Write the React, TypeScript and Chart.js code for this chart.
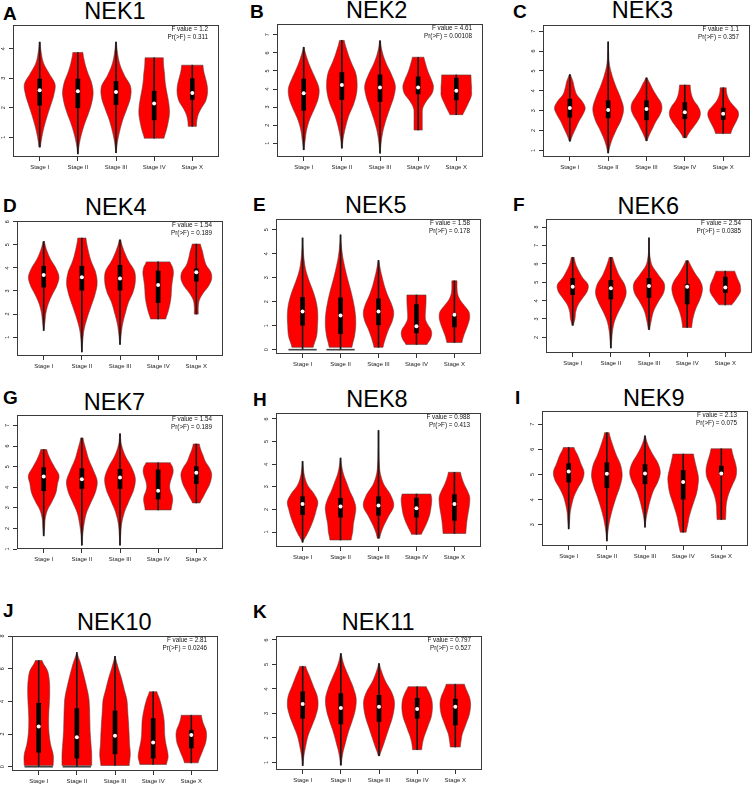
import React, { useEffect, useRef } from "react";
import { Chart, registerables } from "chart.js";

Chart.register(...registerables);

const FONT = '"Liberation Sans", Arial, Helvetica, sans-serif';
const STAGES = ["Stage I", "Stage II", "Stage III", "Stage IV", "Stage X"];
const STAGE_POS = [1, 2, 3, 4, 5];
const HALF_WIDTH = 0.4; // max half-width of a violin, in x units

// stats per stage: [min, q1, median, q3, max]
// shape per stage: relative width at 11 evenly spaced levels from min to max
const NEK1_STATS = [
  [0.67, 2.09, 2.59, 2.97, 4.22],
  [0.44, 2.0, 2.56, 2.97, 3.87],
  [0.48, 2.11, 2.53, 2.89, 4.22],
  [0.97, 1.59, 2.14, 2.56, 3.69],
  [1.37, 2.28, 2.5, 2.98, 3.44],
];
const NEK1_SHAPE = [
  [0.05, 0.15, 0.3, 0.5, 0.72, 0.93, 1.0, 0.62, 0.25, 0.1, 0.03],
  [0.02, 0.1, 0.25, 0.45, 0.7, 0.9, 1.0, 0.9, 0.65, 0.45, 0.33],
  [0.02, 0.1, 0.25, 0.45, 0.72, 0.95, 0.95, 0.55, 0.25, 0.1, 0.03],
  [0.65, 0.8, 0.92, 1.0, 0.98, 0.9, 0.8, 0.72, 0.68, 0.62, 0.6],
  [0.27, 0.3, 0.4, 0.6, 0.85, 0.97, 1.0, 0.95, 0.85, 0.75, 0.7],
];

const NEK2_STATS = [
  [0.64, 2.82, 3.76, 4.55, 6.31],
  [0.73, 3.42, 4.22, 4.91, 6.69],
  [0.45, 3.31, 4.09, 4.78, 6.67],
  [1.73, 3.73, 4.09, 4.67, 5.76],
  [2.58, 3.4, 3.9, 4.6, 4.78],
];
const NEK2_SHAPE = [
  [0.03, 0.1, 0.2, 0.4, 0.7, 0.95, 1.0, 0.75, 0.45, 0.2, 0.03],
  [0.03, 0.1, 0.25, 0.45, 0.75, 0.95, 1.0, 0.9, 0.6, 0.35, 0.16],
  [0.02, 0.08, 0.2, 0.4, 0.65, 0.9, 1.0, 0.75, 0.4, 0.15, 0.03],
  [0.27, 0.27, 0.27, 0.3, 0.55, 0.9, 1.0, 0.85, 0.65, 0.5, 0.38],
  [0.43, 0.55, 0.68, 0.8, 0.92, 1.0, 1.0, 1.0, 0.98, 0.97, 0.96],
];

const NEK3_STATS = [
  [1.47, 2.67, 3.13, 3.58, 4.81],
  [0.87, 2.64, 3.04, 3.5, 6.46],
  [1.49, 2.54, 3.09, 3.5, 4.65],
  [1.64, 2.59, 2.92, 3.41, 4.29],
  [1.85, 2.56, 2.84, 3.13, 4.15],
];
const NEK3_SHAPE = [
  [0.05, 0.2, 0.4, 0.6, 0.85, 1.0, 0.8, 0.45, 0.3, 0.2, 0.05],
  [0.03, 0.2, 0.5, 0.85, 1.0, 0.8, 0.5, 0.25, 0.08, 0.03, 0.01],
  [0.05, 0.2, 0.4, 0.6, 0.85, 1.0, 0.95, 0.7, 0.45, 0.25, 0.05],
  [0.12, 0.3, 0.55, 0.8, 0.98, 1.0, 0.85, 0.6, 0.45, 0.38, 0.35],
  [0.5, 0.6, 0.75, 0.9, 1.0, 0.95, 0.7, 0.45, 0.3, 0.22, 0.2],
];

const NEK4_STATS = [
  [1.29, 3.17, 3.69, 4.07, 5.14],
  [0.36, 3.04, 3.6, 4.07, 5.29],
  [0.69, 3.04, 3.54, 4.11, 5.21],
  [1.79, 2.5, 3.26, 3.86, 4.26],
  [2.0, 3.43, 3.81, 3.96, 5.03],
];
const NEK4_SHAPE = [
  [0.02, 0.08, 0.15, 0.3, 0.55, 0.85, 1.0, 0.8, 0.45, 0.2, 0.05],
  [0.02, 0.06, 0.15, 0.35, 0.6, 0.85, 1.0, 0.9, 0.6, 0.4, 0.27],
  [0.02, 0.08, 0.18, 0.35, 0.55, 0.85, 1.0, 0.95, 0.55, 0.25, 0.05],
  [0.5, 0.62, 0.72, 0.8, 0.85, 0.87, 0.9, 0.95, 1.0, 0.95, 0.78],
  [0.13, 0.13, 0.2, 0.45, 0.8, 1.0, 0.95, 0.65, 0.5, 0.4, 0.27],
];

const NEK5_STATS = [
  [0.1, 1.02, 1.59, 2.18, 4.66],
  [0.1, 0.67, 1.43, 2.16, 4.79],
  [0.1, 1.04, 1.59, 2.12, 3.72],
  [0.22, 0.7, 0.98, 1.88, 2.28],
  [0.3, 0.95, 1.46, 1.5, 2.87],
];
const NEK5_SHAPE = [
  [0.7, 0.92, 0.98, 1.0, 0.92, 0.72, 0.45, 0.22, 0.1, 0.04, 0.01],
  [0.75, 0.92, 1.0, 0.97, 0.85, 0.68, 0.48, 0.3, 0.15, 0.06, 0.01],
  [0.3, 0.45, 0.65, 0.9, 1.0, 0.85, 0.6, 0.4, 0.25, 0.12, 0.03],
  [0.7, 0.9, 1.0, 0.95, 0.75, 0.6, 0.58, 0.6, 0.62, 0.63, 0.63],
  [0.5, 0.6, 0.75, 0.9, 1.0, 0.95, 0.65, 0.35, 0.2, 0.17, 0.17],
];
const NEK5_ZERO_SPIKE = [1, 1, 0, 0, 0];

const NEK6_STATS = [
  [2.66, 4.32, 4.76, 5.21, 6.35],
  [1.42, 4.09, 4.67, 5.1, 6.35],
  [2.43, 4.17, 4.8, 5.21, 7.41],
  [2.54, 3.82, 4.76, 4.89, 6.17],
  [3.77, 4.44, 4.71, 5.28, 5.6],
];
const NEK6_SHAPE = [
  [0.05, 0.15, 0.2, 0.35, 0.65, 0.95, 1.0, 0.65, 0.4, 0.2, 0.1],
  [0.02, 0.06, 0.12, 0.25, 0.5, 0.8, 1.0, 0.9, 0.55, 0.3, 0.12],
  [0.05, 0.15, 0.3, 0.6, 0.95, 1.0, 0.6, 0.2, 0.06, 0.02, 0.01],
  [0.3, 0.35, 0.45, 0.6, 0.8, 0.95, 1.0, 0.85, 0.55, 0.3, 0.1],
  [0.43, 0.6, 0.75, 0.9, 1.0, 1.0, 0.97, 0.88, 0.78, 0.7, 0.62],
];

const NEK7_STATS = [
  [1.64, 3.83, 4.52, 4.95, 5.83],
  [1.19, 3.94, 4.39, 4.9, 6.39],
  [1.19, 3.94, 4.47, 4.87, 6.6],
  [2.9, 3.43, 3.83, 4.84, 5.19],
  [3.24, 4.18, 4.71, 5.0, 6.1],
];
const NEK7_SHAPE = [
  [0.02, 0.06, 0.1, 0.25, 0.55, 0.8, 0.9, 1.0, 0.7, 0.4, 0.2],
  [0.02, 0.06, 0.15, 0.3, 0.6, 0.9, 1.0, 0.75, 0.45, 0.25, 0.08],
  [0.02, 0.05, 0.12, 0.3, 0.6, 0.9, 1.0, 0.75, 0.35, 0.1, 0.02],
  [0.85, 0.9, 0.95, 0.92, 0.8, 0.75, 0.8, 0.9, 0.98, 0.95, 0.8],
  [0.25, 0.45, 0.65, 0.85, 0.97, 1.0, 0.85, 0.6, 0.45, 0.3, 0.2],
];

const NEK8_STATS = [
  [0.55, 1.77, 2.24, 2.56, 4.12],
  [0.65, 1.66, 2.13, 2.49, 4.27],
  [0.73, 1.74, 2.17, 2.56, 5.49],
  [0.9, 1.66, 2.05, 2.5, 2.68],
  [0.94, 1.52, 2.24, 2.65, 3.64],
];
const NEK8_SHAPE = [
  [0.02, 0.3, 0.55, 0.75, 0.9, 1.0, 0.75, 0.35, 0.15, 0.06, 0.02],
  [0.7, 0.8, 0.85, 0.95, 1.0, 0.85, 0.6, 0.4, 0.2, 0.08, 0.02],
  [0.08, 0.3, 0.65, 1.0, 0.8, 0.35, 0.12, 0.05, 0.03, 0.01, 0.005],
  [0.33, 0.45, 0.58, 0.7, 0.8, 0.88, 0.93, 0.97, 1.0, 1.0, 0.95],
  [0.75, 0.78, 0.82, 0.88, 0.95, 1.0, 1.0, 0.85, 0.65, 0.5, 0.4],
];

const NEK9_STATS = [
  [2.84, 4.7, 5.12, 5.43, 6.07],
  [2.36, 4.48, 5.03, 5.46, 6.66],
  [2.91, 4.63, 5.04, 5.39, 6.53],
  [2.71, 4.02, 4.7, 5.16, 5.81],
  [3.21, 5.0, 5.04, 5.33, 6.02],
];
const NEK9_SHAPE = [
  [0.02, 0.06, 0.1, 0.2, 0.35, 0.6, 0.9, 1.0, 0.8, 0.6, 0.35],
  [0.02, 0.08, 0.2, 0.38, 0.6, 0.85, 1.0, 0.9, 0.6, 0.35, 0.15],
  [0.02, 0.08, 0.2, 0.35, 0.55, 0.85, 1.0, 0.85, 0.5, 0.2, 0.03],
  [0.2, 0.3, 0.4, 0.55, 0.72, 0.88, 0.97, 1.0, 0.9, 0.78, 0.68],
  [0.28, 0.3, 0.32, 0.4, 0.55, 0.75, 0.95, 1.0, 0.92, 0.78, 0.68],
];

const NEK10_STATS = [
  [0.08, 0.89, 2.46, 3.88, 6.5],
  [0.08, 0.53, 1.8, 3.56, 6.99],
  [0.08, 0.79, 1.9, 3.41, 6.75],
  [0.14, 0.53, 1.49, 2.95, 4.59],
  [0.24, 1.15, 1.94, 2.24, 3.15],
];
const NEK10_SHAPE = [
  [0.95, 0.95, 0.78, 0.68, 0.65, 0.66, 0.7, 0.72, 0.7, 0.58, 0.22],
  [0.97, 0.97, 0.92, 0.87, 0.85, 0.83, 0.78, 0.63, 0.45, 0.25, 0.02],
  [0.93, 1.0, 0.95, 0.92, 0.88, 0.83, 0.78, 0.6, 0.42, 0.2, 0.02],
  [0.87, 0.98, 0.92, 0.82, 0.76, 0.74, 0.72, 0.65, 0.55, 0.42, 0.25],
  [0.45, 0.55, 0.68, 0.8, 0.92, 0.98, 1.0, 0.95, 0.82, 0.72, 0.66],
];
const NEK10_ZERO_SPIKE = [1, 1, 0, 0, 0];

const NEK11_STATS = [
  [0.87, 2.8, 3.38, 3.88, 4.92],
  [0.89, 2.57, 3.22, 3.81, 5.44],
  [1.27, 2.67, 3.27, 3.74, 5.03],
  [1.52, 2.8, 3.18, 3.62, 4.09],
  [1.63, 2.53, 3.27, 3.58, 4.19],
];
const NEK11_SHAPE = [
  [0.02, 0.08, 0.2, 0.35, 0.6, 0.85, 1.0, 0.95, 0.7, 0.45, 0.2],
  [0.03, 0.12, 0.3, 0.5, 0.75, 0.95, 1.0, 0.8, 0.5, 0.2, 0.03],
  [0.05, 0.25, 0.45, 0.65, 0.85, 0.98, 1.0, 0.8, 0.45, 0.2, 0.03],
  [0.3, 0.35, 0.45, 0.6, 0.75, 0.9, 0.98, 1.0, 0.95, 0.8, 0.6],
  [0.33, 0.38, 0.45, 0.6, 0.75, 0.9, 0.98, 1.0, 0.92, 0.75, 0.6],
];

const NO_SPIKE = [0, 0, 0, 0, 0];

const GENES = ["NEK1", "NEK2", "NEK3", "NEK4", "NEK5", "NEK6", "NEK7", "NEK8", "NEK9", "NEK10", "NEK11"];
const LETTERS = ["A", "B", "C", "D", "E", "F", "G", "H", "I", "J", "K"];
const F_VALUES = ["1.2", "4.61", "1.1", "1.54", "1.58", "2.54", "1.54", "0.988", "2.13", "2.81", "0.797"];
const P_VALUES = ["0.311", "0.00108", "0.357", "0.189", "0.178", "0.0385", "0.189", "0.413", "0.075", "0.0246", "0.527"];
const Y_RANGES = [
  [0.333, 4.8], [0.236, 7.6], [0.67, 7.31],
  [0.186, 6.03], [-0.18, 5.45], [1.15, 8.44],
  [1.0, 7.51], [0.34, 6.26], [2.16, 7.52],
  [-0.26, 8.0], [0.69, 6.16],
];
const Y_TICKS = [
  [1, 2, 3, 4], [1, 2, 3, 4, 5, 6, 7], [1, 2, 3, 4, 5, 6, 7],
  [1, 2, 3, 4, 5, 6], [0, 1, 2, 3, 4, 5], [2, 3, 4, 5, 6, 7, 8],
  [1, 2, 3, 4, 5, 6, 7], [1, 2, 3, 4, 5, 6], [3, 4, 5, 6, 7],
  [0, 2, 4, 6, 8], [1, 2, 3, 4, 5, 6],
];
const ALL_STATS = [NEK1_STATS, NEK2_STATS, NEK3_STATS, NEK4_STATS, NEK5_STATS, NEK6_STATS, NEK7_STATS, NEK8_STATS, NEK9_STATS, NEK10_STATS, NEK11_STATS];
const ALL_SHAPES = [NEK1_SHAPE, NEK2_SHAPE, NEK3_SHAPE, NEK4_SHAPE, NEK5_SHAPE, NEK6_SHAPE, NEK7_SHAPE, NEK8_SHAPE, NEK9_SHAPE, NEK10_SHAPE, NEK11_SHAPE];
const ALL_SPIKES = [NO_SPIKE, NO_SPIKE, NO_SPIKE, NO_SPIKE, NEK5_ZERO_SPIKE, NO_SPIKE, NO_SPIKE, NO_SPIKE, NO_SPIKE, NEK10_ZERO_SPIKE, NO_SPIKE];

// layout: plot box [left, top, width, height], letter [x, baseline], title [centerX, baseline]
const BOXES = [
  [13, 23, 206, 134], [277, 22, 206, 135], [543, 23, 207, 134],
  [17, 219, 206, 137], [276, 217, 205, 137], [546, 217, 206, 136],
  [17, 413, 206, 136], [276, 411, 205, 136], [542, 409, 206, 137],
  [12, 634, 206, 137], [276, 634, 206, 136],
];
const LETTER_POS = [
  [3, 20], [250, 18.5], [513, 18.5], [3, 212], [253, 211], [513, 211],
  [3, 404], [253, 406], [515, 404], [3, 617.5], [253, 618],
];
const TITLE_POS = [
  [115, 19.5], [376.7, 19], [642.5, 19.3], [115.8, 216], [375.8, 214], [648.3, 215],
  [114.5, 411], [377, 408.3], [653.8, 406.7], [114.3, 631], [378.2, 631],
];

const PAD_L = 14;
const PAD_T = 2;
const PAD_R = 4;
const PAD_B = 22;

function drawViolin(ctx: CanvasRenderingContext2D, xs: any, ys: any, pos: number, stats: number[], shape: number[]) {
  const mn = stats[0];
  const mx = stats[4];
  const n = shape.length;
  const cx = xs.getPixelForValue(pos);
  const pts = shape.map((w, i) => {
    const v = mn + ((mx - mn) * i) / (n - 1);
    return { y: ys.getPixelForValue(v), h: Math.abs(xs.getPixelForValue(pos + HALF_WIDTH * w) - cx) };
  });
  const dense: { y: number; h: number }[] = [];
  const steps = 10;
  for (let i = 0; i < n - 1; i++) {
    const p0 = pts[Math.max(0, i - 1)];
    const p1 = pts[i];
    const p2 = pts[i + 1];
    const p3 = pts[Math.min(n - 1, i + 2)];
    for (let s = 0; s < steps; s++) {
      const t = s / steps;
      const t2 = t * t;
      const t3 = t2 * t;
      const h =
        0.5 *
        (2 * p1.h + (-p0.h + p2.h) * t + (2 * p0.h - 5 * p1.h + 4 * p2.h - p3.h) * t2 + (-p0.h + 3 * p1.h - 3 * p2.h + p3.h) * t3);
      const y = p1.y + (p2.y - p1.y) * t;
      dense.push({ y, h: Math.max(0.3, h) });
    }
  }
  dense.push(pts[n - 1]);
  ctx.beginPath();
  dense.forEach((p, i) => (i === 0 ? ctx.moveTo(cx + p.h, p.y) : ctx.lineTo(cx + p.h, p.y)));
  for (let i = dense.length - 1; i >= 0; i--) ctx.lineTo(cx - dense[i].h, dense[i].y);
  ctx.closePath();
  ctx.fillStyle = "#ff0000";
  ctx.fill();
  ctx.strokeStyle = "#5a3a3a";
  ctx.lineWidth = 0.6;
  ctx.stroke();
}

function Panel({ idx }: { idx: number }) {
  const ref = useRef<HTMLCanvasElement | null>(null);
  const [L, T, W, H] = BOXES[idx];
  const stats = ALL_STATS[idx];
  const shapes = ALL_SHAPES[idx];
  const spikes = ALL_SPIKES[idx];
  const yTicks = Y_TICKS[idx];
  const [yMin, yMax] = Y_RANGES[idx];

  useEffect(() => {
    if (!ref.current) return;
    const violinPlugin = {
      id: "violins",
      beforeDatasetsDraw(chart: any) {
        const ctx = chart.ctx;
        const xs = chart.scales.x;
        const ys = chart.scales.y;
        ctx.save();
        STAGE_POS.forEach((pos, i) => {
          drawViolin(ctx, xs, ys, pos, stats[i], shapes[i]);
          if (spikes[i]) {
            const y0 = ys.getPixelForValue(0);
            ctx.beginPath();
            ctx.moveTo(xs.getPixelForValue(pos - HALF_WIDTH * 0.93), y0);
            ctx.lineTo(xs.getPixelForValue(pos + HALF_WIDTH * 0.93), y0);
            ctx.strokeStyle = "#444";
            ctx.lineWidth = 1.6;
            ctx.stroke();
          }
        });
        ctx.restore();
      },
      afterDraw(chart: any) {
        const ctx = chart.ctx;
        const ca = chart.chartArea;
        const ys = chart.scales.y;
        ctx.save();
        ctx.strokeStyle = "#3a3a3a";
        ctx.lineWidth = 1;
        ctx.strokeRect(Math.round(ca.left) + 0.5, Math.round(ca.top) + 0.5, Math.round(ca.right - ca.left) - 1, Math.round(ca.bottom - ca.top) - 1);
        // F statistic annotation
        ctx.fillStyle = "#111";
        ctx.font = `6.3px ${FONT}`;
        ctx.textAlign = "right";
        ctx.textBaseline = "alphabetic";
        ctx.fillText(`F value = ${F_VALUES[idx]}`, ca.right - 11, ca.top + 6);
        ctx.fillText(`Pr(>F) = ${P_VALUES[idx]}`, ca.right - 11, ca.top + 14);
        // rotated y tick labels (R style)
        ctx.font = `5.5px ${FONT}`;
        ctx.textAlign = "center";
        ctx.textBaseline = "middle";
        ctx.fillStyle = "#222";
        ys.ticks.forEach((t: any) => {
          ctx.save();
          ctx.translate(ca.left - 9.5, ys.getPixelForValue(t.value));
          ctx.rotate(-Math.PI / 2);
          ctx.fillText(String(t.value), 0, 0);
          ctx.restore();
        });
        ctx.restore();
      },
    };

    const chart = new Chart(ref.current, {
      type: "bar",
      data: {
        datasets: [
          {
            type: "scatter",
            data: stats.map((s, i) => ({ x: STAGE_POS[i], y: s[2] })),
            pointRadius: 2,
            pointBackgroundColor: "#ffffff",
            pointBorderWidth: 0,
            backgroundColor: "#ffffff",
          } as any,
          {
            type: "bar",
            data: stats.map((s, i) => ({ x: STAGE_POS[i], y: [s[1], s[3]] })),
            backgroundColor: "#000000",
            borderWidth: 0,
            barThickness: 4,
            grouped: false,
          } as any,
          {
            type: "bar",
            data: stats.map((s, i) => ({ x: STAGE_POS[i], y: [spikes[i] ? 0 : s[0], s[4]] })),
            backgroundColor: "#1a1a1a",
            borderWidth: 0,
            barThickness: 1,
            grouped: false,
          } as any,
        ],
      },
      options: {
        animation: false,
        responsive: false,
        devicePixelRatio: 1,
        events: [],
        layout: { padding: { left: 0, top: PAD_T, right: PAD_R, bottom: 0 } },
        plugins: { legend: { display: false }, tooltip: { enabled: false }, title: { display: false } },
        scales: {
          x: {
            type: "linear",
            offset: false,
            min: 0.3,
            max: 5.7,
            afterBuildTicks: (s: any) => {
              s.ticks = STAGE_POS.map((v) => ({ value: v }));
            },
            afterFit: (s: any) => {
              s.height = PAD_B;
            },
            grid: { offset: false, drawOnChartArea: false, drawTicks: true, tickLength: 4, color: "#333", lineWidth: 1 },
            border: { display: false },
            ticks: {
              callback: (_v: any, i: number) => STAGES[i],
              font: { size: 6, family: FONT },
              color: "#222",
              padding: 3,
              maxRotation: 0,
              minRotation: 0,
              autoSkip: false,
            },
          },
          y: {
            type: "linear",
            min: yMin,
            max: yMax,
            afterBuildTicks: (s: any) => {
              s.ticks = yTicks.map((v) => ({ value: v }));
            },
            afterFit: (s: any) => {
              s.width = PAD_L;
            },
            grid: { drawOnChartArea: false, drawTicks: true, tickLength: 4, color: "#333", lineWidth: 1 },
            border: { display: false },
            ticks: { display: false },
          },
        },
      } as any,
      plugins: [violinPlugin],
    });
    return () => chart.destroy();
  }, [idx]);

  return (
    <canvas
      ref={ref}
      width={W + PAD_L + PAD_R}
      height={H + PAD_T + PAD_B}
      style={{ position: "absolute", left: L - PAD_L, top: T - PAD_T, display: "block" }}
    />
  );
}

function Label({ x, baseline, size, bold, center, text }: { x: number; baseline: number; size: number; bold?: boolean; center?: boolean; text: string }) {
  return (
    <div
      style={{
        position: "absolute",
        left: x,
        top: baseline - 0.8465 * size,
        fontSize: size,
        lineHeight: `${size}px`,
        fontFamily: FONT,
        fontWeight: bold ? "bold" : "normal",
        whiteSpace: "nowrap",
        color: "#000",
        transform: center ? "translateX(-50%)" : undefined,
      }}
    >
      {text}
    </div>
  );
}

export default function App() {
  return (
    <div style={{ position: "absolute", left: 0, top: 0, width: 754, height: 786, background: "#fff", overflow: "hidden" }}>
      {GENES.map((g, i) => (
        <React.Fragment key={g}>
          <Label x={LETTER_POS[i][0]} baseline={LETTER_POS[i][1]} size={19} bold text={LETTERS[i]} />
          <Label x={TITLE_POS[i][0]} baseline={TITLE_POS[i][1]} size={23.5} center text={g} />
          <Panel idx={i} />
        </React.Fragment>
      ))}
    </div>
  );
}
